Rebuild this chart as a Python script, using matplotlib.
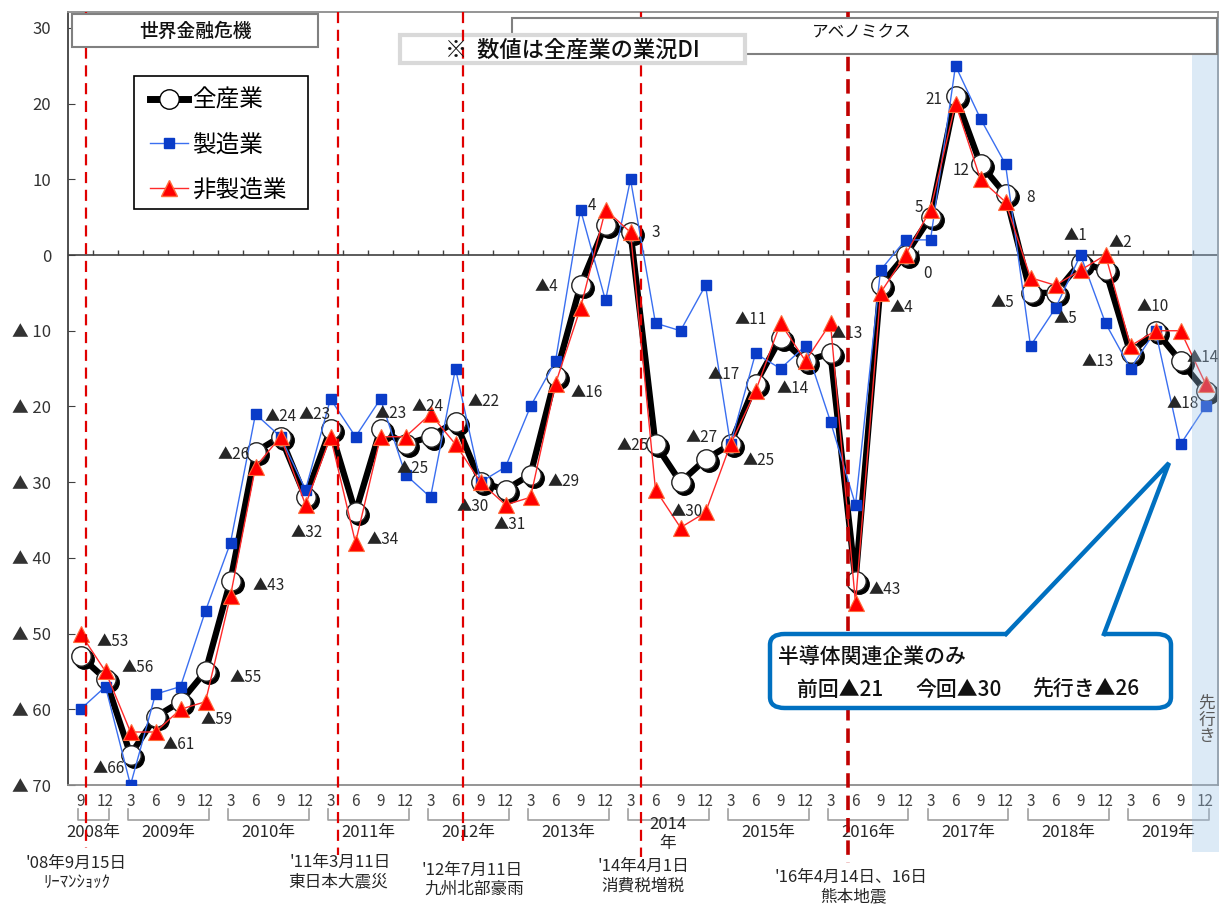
import numpy as np
import matplotlib
matplotlib.use('Agg')
import matplotlib.pyplot as plt
from matplotlib.lines import Line2D
from matplotlib.patches import Rectangle, FancyBboxPatch, Polygon
import matplotlib.transforms as mtransforms

plt.rcParams['font.family'] = ['Noto Sans CJK JP', 'DejaVu Sans']

# ---------------- data ----------------
months = [9, 12] + [3, 6, 9, 12] * 11
year_names = ['2008年', '2009年', '2010年', '2011年', '2012年', '2013年', '2014\n年',
              '2015年', '2016年', '2017年', '2018年', '2019年']
year_spans = [(0, 1)] + [(2 + 4 * k, 5 + 4 * k) for k in range(11)]

all_ind = [-53, -56, -66, -61, -59, -55, -43, -26, -24, -32, -23, -34, -23, -25, -24, -22,
           -30, -31, -29, -16, -4, 4, 3, -25, -30, -27, -25, -17, -11, -14, -13, -43,
           -4, 0, 5, 21, 12, 8, -5, -5, -1, -2, -13, -10, -14, -18]
manuf = [-60, -57, -70, -58, -57, -47, -38, -21, -24, -31, -19, -24, -19, -29, -32, -15,
         -30, -28, -20, -14, 6, -6, 10, -9, -10, -4, -25, -13, -15, -12, -22, -33,
         -2, 2, 2, 25, 18, 12, -12, -7, 0, -9, -15, -10, -25, -20]
nonmanuf = [-50, -55, -63, -63, -60, -59, -45, -28, -24, -33, -24, -38, -24, -24, -21, -25,
            -30, -33, -32, -17, -7, 6, 3, -31, -36, -34, -25, -18, -9, -14, -9, -46,
            -5, 0, 6, 20, 10, 7, -3, -4, -2, 0, -12, -10, -10, -17]

series_names = ['全産業', '製造業', '非製造業']

# label offsets (pixels) for the 全産業 value labels
label_offsets = [(32, 15), (32, 12), (-22, -14), (23, -28), (36, -18), (40, -6), (38, -5),
                 (-22, -3), (0, 20), (1, -35), (-16, 15), (27, -27), (10, 16), (7, -24),
                 (-3, 30), (28, 20), (-8, -24), (4, -35), (33, -7), (31, -16), (-34, -1),
                 (-13, 19), (25, 0), (-23, -1), (6, -29), (-4, 22), (28, -16), (-32, 9),
                 (-30, 19), (-13, -27), (16, 20), (29, -9), (21, -22), (22, -18), (-12, 10),
                 (-22, -3), (-19, -6), (25, -3), (-28, -10), (10, -26), (-5, 27), (15, 28),
                 (-33, -8), (-3, 24), (22, 4), (-23, -12)]

events_pos = [0.2, 10.3, 15.3, 22.4, 30.7]
events_l1 = ["'08年9月15日", "'11年3月11日", "'12年7月11日", "'14年4月1日", "'16年4月14日、16日"]
events_l2 = ['ﾘｰﾏﾝｼｮｯｸ', '東日本大震災', '九州北部豪雨', '消費税増税', '熊本地震']

semi_text = ['前回▲21', '今回▲30', '先行き▲26']

# ---------------- figure ----------------
W, H = 1219, 907
fig = plt.figure(figsize=(W / 100, H / 100), dpi=100)
fig.patch.set_facecolor('white')


def fx(x):
    return x / W


def fy(y):
    return 1 - y / H


ax = fig.add_axes([fx(68), fy(785), (1218 - 68) / W, (785 - 12) / H])
ax.set_xlim(-0.5, 45.5)
ax.set_ylim(-70, 32.1)

x = np.arange(len(all_ind))

# black line + circles with shadow
ax.plot(x, all_ind, color='black', lw=4.5, zorder=2, solid_capstyle='round')
shadow = mtransforms.offset_copy(ax.transData, fig=fig, x=3, y=-3, units='dots')
ax.plot(x, all_ind, ls='none', marker='o', ms=14, mfc='black', mec='black',
        transform=shadow, zorder=2.1)
ax.plot(x, all_ind, ls='none', marker='o', ms=14, mfc='white', mec='#222222', mew=1,
        zorder=2.2)
# manufacturing
ax.plot(x, manuf, color='#3a6ff0', lw=1.0, marker='s', ms=7, mfc='#0a3cc8', mec='#0a3cc8',
        zorder=3)
# non-manufacturing
ax.plot(x, nonmanuf, color='#ff2a2a', lw=1.0, marker='^', ms=11, mfc='#ff0000',
        mec='#ff6a3a', mew=0.8, zorder=4)


def fmt(v):
    return '▲' + str(-v) if v < 0 else str(v)


for i, v in enumerate(all_ind):
    dx, dy = label_offsets[i]
    ax.annotate(fmt(v), xy=(i, v), xytext=(dx, dy), textcoords='offset pixels',
                ha='center', va='center', fontsize=11, color='#262626', zorder=6)

# zero line with small ticks
ax.axhline(0, color='#404040', lw=1.2, zorder=1)
ax.vlines(np.arange(0.5, 45.0, 1.0), 0, 0.7, color='#404040', lw=1.0, zorder=1)

# axes styling
for s in ['top', 'right', 'bottom']:
    ax.spines[s].set_color('#8c8c8c')
    ax.spines[s].set_linewidth(1.3)
ax.spines['left'].set_color('#404040')
ax.spines['left'].set_linewidth(1.3)

yt = list(range(-70, 31, 10))
ax.set_yticks(yt)
ax.set_yticklabels([('▲ ' + str(-t)) if t < 0 else str(t) for t in yt],
                   fontsize=12, color='#333333')
ax.tick_params(axis='y', direction='in', length=5, pad=12, color='#404040')
ax.set_xticks(x)
ax.set_xticklabels([str(m) for m in months], fontsize=11, color='#404040')
ax.tick_params(axis='x', length=0, pad=6)

# year brackets
bt = mtransforms.blended_transform_factory(ax.transData, ax.transAxes)


def ay(ypx):
    return -(ypx - 785) / 773


for (a, b), name in zip(year_spans, year_names):
    x0, x1 = a - 0.12, b + 0.12
    ax.plot([x0, x0, x1, x1], [ay(809), ay(820), ay(820), ay(809)], color='#a0a0a0',
            lw=1.2, transform=bt, clip_on=False)
    if '\n' in name:
        ax.text((a + b) / 2, ay(834), name, transform=bt, ha='center', va='center',
                fontsize=12, color='#262626', linespacing=1.2)
    else:
        ax.text((a + b) / 2, ay(832), name, transform=bt, ha='center', va='center',
                fontsize=12, color='#262626')

# legend (frame drawn separately)
ax.add_patch(Rectangle((fx(134), fy(209)), (308 - 134) / W, (209 - 76) / H,
                       transform=fig.transFigure, facecolor='white', edgecolor='black',
                       lw=1.2, zorder=9, clip_on=False))
handles = [Line2D([], [], color='black', lw=5, marker='o', ms=14, mfc='white', mec='black'),
           Line2D([], [], color='#3a6ff0', lw=1, marker='s', ms=7, mfc='#0a3cc8',
                  mec='#0a3cc8'),
           Line2D([], [], color='#ff2a2a', lw=1, marker='^', ms=11, mfc='#ff0000',
                  mec='#ff6a3a')]
leg = ax.legend(handles, series_names, loc='upper left',
                bbox_to_anchor=(fx(150), fy(89)), bbox_transform=fig.transFigure,
                borderaxespad=0, fontsize=17, frameon=False,
                handlelength=1.6, handletextpad=0.2,
                labelspacing=0.92, borderpad=0)
leg.set_zorder(10)

# event lines (figure level, over chart)
for k, p in enumerate(events_pos):
    bottoms = [848, 855, 843, 857, 863]
    lw = 2.6 if k == 4 else 1.6
    col = '#c00000' if k == 4 else '#e00000'
    ln = Line2D([p, p], [1.0, ay(bottoms[k])], transform=bt, color=col, lw=lw,
                ls=(0, (5, 3)) if k != 4 else (0, (4, 2.2)), zorder=6 if k == 2 else 3)
    fig.add_artist(ln)

ev_xy1 = [(76, 863), (340, 862), (472, 870), (643, 866), (851, 877)]
ev_xy2 = [(77, 882), (338, 882), (474, 889), (643, 886), (853, 897)]
for k in range(5):
    fig.text(fx(ev_xy1[k][0]), fy(ev_xy1[k][1]), events_l1[k], ha='center', va='center',
             fontsize=12, color='#262626')
    fig.text(fx(ev_xy2[k][0]), fy(ev_xy2[k][1]), events_l2[k], ha='center', va='center',
             fontsize=12, color='#262626')

# forecast band (semi-transparent shape over chart)
fig.add_artist(Rectangle((fx(1192), fy(852)), (1219 - 1192) / W, (852 - 18) / H,
                         transform=fig.transFigure, facecolor='#9dc3e6', alpha=0.35,
                         edgecolor='none', zorder=4))
fig.text(fx(1207), fy(720), '先\n行\nき', ha='center', va='center', fontsize=12,
         color='#595959', linespacing=1.0, zorder=7)


def fig_box(x0, y0, x1, y1, ec, lw, z):
    fig.add_artist(Rectangle((fx(x0), fy(y1)), (x1 - x0) / W, (y1 - y0) / H,
                             transform=fig.transFigure, facecolor='white', edgecolor=ec,
                             lw=lw, zorder=z))


fig_box(72, 14, 318, 47, '#808080', 1.5, 5)
fig.text(fx(195), fy(31), '世界金融危機', ha='center', va='center', fontsize=13.5,
         color='#111111', fontweight='medium', zorder=8)
fig_box(512, 18, 1217, 54, '#808080', 1.5, 5)
fig.text(fx(862), fy(33), 'アベノミクス', ha='center', va='center', fontsize=12,
         color='#111111', zorder=8)
fig_box(400, 35, 745, 63, '#d9d9d9', 3, 5.5)
fig.text(fx(572), fy(50), '※  数値は全産業の業況DI', ha='center', va='center', fontsize=16,
         color='#111111', fontweight='medium', zorder=8)

# callout
blue = '#0070c0'
cb = FancyBboxPatch((fx(770), fy(708)), (1171 - 770) / W, (708 - 634) / H,
                    boxstyle='round,pad=0,rounding_size=0.012', transform=fig.transFigure,
                    facecolor='white', edgecolor=blue, lw=3.2, zorder=5)
fig.add_artist(cb)
fig.add_artist(Polygon([(fx(1006), fy(637)), (fx(1169), fy(463)), (fx(1104), fy(637))],
                       closed=True, transform=fig.transFigure, facecolor='white',
                       edgecolor='none', zorder=5.2))
fig.add_artist(Line2D([fx(1006), fx(1169), fx(1104)], [fy(634), fy(463), fy(634)],
                      transform=fig.transFigure, color=blue, lw=3.2, zorder=5.3,
                      solid_joinstyle='miter'))
fig.text(fx(778), fy(657), '半導体関連企業のみ', ha='left', va='center', fontsize=15,
         color='#111111', fontweight='medium', zorder=8)
for tx, t in zip([797, 915, 1032], semi_text):
    fig.text(fx(tx), fy(690), t, ha='left', va='center', fontsize=15, color='#111111',
             fontweight='medium', zorder=8)

fig.savefig('out.png', dpi=100)
